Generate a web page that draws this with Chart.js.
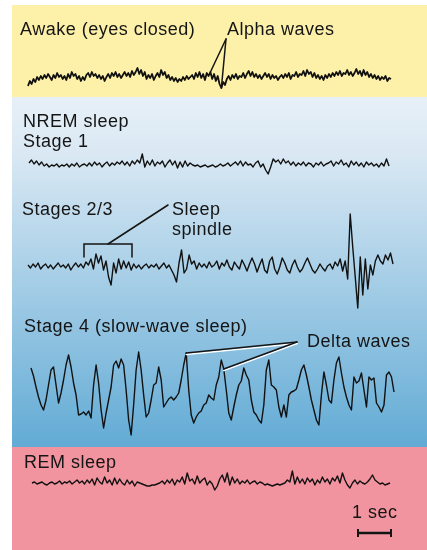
<!DOCTYPE html>
<html>
<head>
<meta charset="utf-8">
<script src="https://cdn.jsdelivr.net/npm/chart.js@4.4.1/dist/chart.umd.min.js"></script>
<style>
  html, body { margin: 0; padding: 0; background: #fff; }
  #wrap { position: relative; width: 427px; height: 550px; overflow: hidden; }
  #eeg { position: absolute; left: 0; top: 0; }
  .lbl {
    position: absolute;
    font-family: "Liberation Sans", Arial, sans-serif;
    font-size: 18px;
    line-height: 20px;
    letter-spacing: 0.5px;
    color: #151515;
    white-space: nowrap;
  }
</style>
</head>
<body>
<div id="wrap">
  <canvas id="eeg" width="427" height="550"></canvas>
  <div class="lbl" style="left:20px;top:19px">Awake (eyes closed)</div>
  <div class="lbl" style="left:227px;top:19px">Alpha waves</div>
  <div class="lbl" style="left:23px;top:111px">NREM sleep<br>Stage 1</div>
  <div class="lbl" style="left:22px;top:199px">Stages 2/3</div>
  <div class="lbl" style="left:172px;top:199px">Sleep<br>spindle</div>
  <div class="lbl" style="left:24px;top:316px">Stage 4 (slow-wave sleep)</div>
  <div class="lbl" style="left:307px;top:331px">Delta waves</div>
  <div class="lbl" style="left:24px;top:452px">REM sleep</div>
  <div class="lbl" style="left:352px;top:502px">1 sec</div>
</div>
<script>
(function() {
  'use strict';

  var PX_PER_SEC = 35;

  // EEG samples, amplitude in display units, positive = up
  var awake = [
    -8, -3, -6, -1, -4, 1, -2, 2, -1, 3,
    0, 4, 1, -2, 3, 0, 5, 1, 3, -1,
    2, -2, 4, 0, 6, 2, 4, -1, 2, -3,
    1, -2, 3, 5, 1, 6, 2, 4, 0, 3,
    -1, 2, -3, 1, 4, 0, 5, 2, 6, 1,
    4, 0, 3, 6, 2, 5, 1, 7, 3, 6,
    10, 4, 8, 2, 6, -1, 3, 0, 4, -2,
    2, 5, 1, 8, 3, 6, 0, 3, -2, 1,
    -3, 0, -4, -1, -3, 1, -2, 2, -1, 1,
    3, -1, 5, 1, 6, 0, 4, -2, 5, 2,
    6, -1, 4, -3, 2, -6, -10, -4, -7, -1,
    2, -2, 3, 0, 4, -1, 2, 1, 5, 0,
    4, 7, 2, 6, 1, 4, 0, 3, -1, 2,
    5, 1, 4, -1, 3, 0, 2, -2, 1, 3,
    0, 4, 1, 5, -1, 3, 2, 6, 1, 4,
    3, 7, 2, 8, 4, 6, 1, 5, 0, 3,
    -1, 2, -2, 3, 0, 4, 1, 5, 2, 6,
    3, 7, 2, 5, 4, 8, 3, 6, 2, 5,
    9, 4, 7, 2, 8, 3, 6, 1, 4, 0,
    3, -1, 2, -2, 1, -1, 2, -3, 0, -1
  ];

  var stage1 = [
    2, 5, 1, 4, 0, 3, -1, 1, -2, 0, -1, 1,
    -2, 0, -1, 1, -2, 1, -1, 2, -2, 0, 1, -1,
    2, -1, 3, 0, 2, -2, 1, 3, -1, 2, 0, 3,
    1, 4, 0, 3, -1, 4, 1, 5, 2, 11, -2, 4,
    0, 5, -1, 3, 1, 4, -2, 2, 5, 0, 4, -3,
    3, -2, 4, -1, 2, 0, -1, 0, -2, -1, 0, -2,
    -1, 0, -2, -1, 1, -1, 0, 2, -1, 1, 3, 0,
    4, -1, 3, 0, 1, -2, 2, 4, -2, 1, -5, -9,
    -2, 6, 3, 5, 1, 6, 2, 4, 0, 3, -1, 2,
    0, 3, -1, 2, 1, -2, 2, 0, 3, -1, 1, 2,
    4, -1, 3, 1, 5, 0, 2, -2, 4, 0, 3, -1,
    2, -2, 3, 0, 2, -1, 1, -2, 2, -1, 6, -1
  ];

  var stage23 = [
    2, -1, 3, 0, 4, -2, 1, 3, -1, 2,
    -2, 1, 4, 0, 2, -1, 3, -3, 1, 4,
    0, 3, -1, 5, 2, 8, -2, 13, 4, 11,
    -3, 6, -10, -18, 4, -6, 8, -2, 6, -1,
    5, -3, 3, -1, 2, -2, 1, 3, -1, 2,
    0, 3, -2, 1, 4, -1, 2, -3, -8, -15,
    4, 17, -6, -2, 12, 3, 6, -2, 4, 0,
    3, -1, 5, 0, 2, 6, -2, 4, 1, 7,
    0, -3, 5, 1, -2, 7, 2, -4, 3, 9,
    3, -5, 2, 8, -3, -6, 6, 10, -2, -7,
    0, 9, 4, -3, -6, 2, 7, 0, -5, -2,
    4, 9, 3, -3, -6, -2, 3, -1, -4, 1,
    3, -2, 5, 1, 8, -4, 6, -12, 53, 20,
    -10, -41, 10, -28, 8, -22, 2, -8, 6, 12,
    6, 3, 12, 7, 14, 3
  ];

  var stage4 = [
    27, 19, 8, -2, -10, -15, -5, 10, 25, 28,
    10, -8, 2, 15, 30, 40, 28, 12, 0, -20,
    -19, -17, -20, -16, -23, 10, 30, 12, -15, -33,
    -18, -5, 8, 30, 34, 27, 36, 30, 5, -25,
    -40, -10, 25, 43, 25, 0, -22, -18, -5, 10,
    12, 28, 15, -12, -8, -4, -2, -5, -2, 2,
    15, 30, 42, 5, -20, -28, -22, -18, -16, -10,
    -8, 0, -3, -5, 10, 18, 35, 26, 5, -18,
    -25, -12, 0, 10, 14, 27, 20, 15, -5, -17,
    -20, -25, -28, -10, 25, 35, 10, 8, 5, -12,
    -22, -10, -22, 0, 3, 4, 6, 15, 25, 30,
    20, 8, -5, -15, -25, -30, 0, 23, 10, -5,
    -8, 15, 32, 38, 22, 8, -2, -10, -15, 18,
    12, 14, 22, 5, -12, 18, 15, 17, -8, -12,
    -17, -10, 20, 23, 18, 3
  ];

  var rem = [
    0, 1, -1, 0, 1, -1, -2, 0, 1, -1, 0, 2, -1, 1, 0, 2, -1, 1, 3, 0, 2,
    -1, 3, 0, 4, -2, 5, 1, -1, 6, 0, 3, -2, 5, -1, 4, 0, -2, 3, -1, 2, -3, 1, 0,
    -1, -2, -3, -3, -2, -2, -1, 0,
    2, -1, 3, 0, 4, -2, 3, 1, 6, -1, 10, 2, 4, -1, 7, 0, 3, 5, -2, 2, -1,
    -7, -3, 4, 8, 1, 10, -2, 6, 0, 4, -1,
    2, 0, 3, -1, 1, 2, -1, 1, 0, -2, -1,
    -2, -3, -2, -1, -2, -1, 0,
    3, 1, 12, -1, 6, 0, 4,
    -1, 5, 1, 4, -2, 3, 0, 6, 1, 4, -1, 5, 2, 7, 0, 10, 3, -2,
    -5, 0, 3, -1, 2, 0, -1, 1, 4, 8, 3, 1, -1, 0, -2, -1, 0
  ];

  var COLORS = {
    awake: '#fdf1a9',
    nremTop: '#e7f0f7',
    nremBottom: '#62abd5',
    rem: '#f2949f',
    trace: '#111111',
    ink: '#151515'
  };

  var W = 427, H = 550;

  // where each channel sits on the page (pixel span, baseline, pen width)
  var TRACES = [
    { data: awake, from: 28, to: 391, base: 78, pen: 1.8 },
    { data: stage1, from: 29, to: 389, base: 165, pen: 1.4 },
    { data: stage23, from: 28, to: 393, base: 267, pen: 1.4 },
    { data: stage4, from: 31, to: 394, base: 395, pen: 1.4 },
    { data: rem, from: 32, to: 390, base: 483, pen: 1.4 }
  ];

  function toPoints(tr) {
    var t0 = tr.from / PX_PER_SEC;
    var dt = (tr.to - tr.from) / PX_PER_SEC / (tr.data.length - 1);
    return tr.data.map(function(v, i) { return { x: t0 + i * dt, y: v }; });
  }

  var bandsPlugin = {
    id: 'bands',
    beforeDraw: function(chart) {
      var ctx = chart.ctx;
      ctx.save();
      ctx.fillStyle = '#ffffff';
      ctx.fillRect(0, 0, W, H);
      ctx.fillStyle = COLORS.awake;
      ctx.fillRect(12, 5, W - 12, 92);
      var g = ctx.createLinearGradient(0, 97, 0, 447);
      g.addColorStop(0, COLORS.nremTop);
      g.addColorStop(0.15, '#dbe9f4');
      g.addColorStop(1, COLORS.nremBottom);
      ctx.fillStyle = g;
      ctx.fillRect(12, 97, W - 12, 350);
      ctx.fillStyle = COLORS.rem;
      ctx.fillRect(12, 447, W - 12, H - 447);
      ctx.restore();
    }
  };

  function seg(ctx, x1, y1, x2, y2) {
    ctx.beginPath();
    ctx.moveTo(x1, y1);
    ctx.lineTo(x2, y2);
    ctx.stroke();
  }

  var notesPlugin = {
    id: 'notes',
    afterDatasetsDraw: function(chart) {
      var ctx = chart.ctx;
      var xs = chart.scales.x;
      function pt(ds, i) { return chart.getDatasetMeta(ds).data[i]; }

      ctx.save();
      ctx.lineCap = 'round';
      ctx.strokeStyle = COLORS.ink;
      ctx.lineWidth = 1.5;

      // alpha waves pointers
      var a1 = pt(0, 100), a2 = pt(0, 106);
      seg(ctx, 226, 39, a1.x, a1.y);
      seg(ctx, 226, 39, a2.x, a2.y);

      // sleep spindle bracket
      var bx1 = xs.getPixelForValue(84 / PX_PER_SEC);
      var bx2 = xs.getPixelForValue(132 / PX_PER_SEC);
      ctx.beginPath();
      ctx.moveTo(bx1, 257);
      ctx.lineTo(bx1, 244);
      ctx.lineTo(bx2, 244);
      ctx.lineTo(bx2, 257);
      ctx.stroke();
      seg(ctx, (bx1 + bx2) / 2, 244, 168, 205);

      // delta waves pointers, with a light edge under them
      var d1 = pt(3, 62), d2 = pt(3, 77);
      ctx.strokeStyle = '#ffffff';
      ctx.lineWidth = 1.5;
      seg(ctx, 297, 343.5, d1.x, d1.y + 1.5);
      seg(ctx, 297, 343.5, d2.x, d2.y + 1.5);
      ctx.strokeStyle = COLORS.ink;
      seg(ctx, 297, 342, d1.x, d1.y);
      seg(ctx, 297, 342, d2.x, d2.y);

      // 1 second scale bar
      var s1 = xs.getPixelForValue(357 / PX_PER_SEC);
      var s2 = xs.getPixelForValue(357 / PX_PER_SEC + 1);
      ctx.lineWidth = 2.5;
      ctx.lineCap = 'butt';
      seg(ctx, s1, 533, s2, 533);
      ctx.lineWidth = 2;
      seg(ctx, s1 + 1, 529, s1 + 1, 537);
      seg(ctx, s2 - 1, 529, s2 - 1, 537);
      ctx.restore();
    }
  };

  var scales = {
    x: { type: 'linear', min: 0, max: W / PX_PER_SEC, display: false }
  };
  var datasets = TRACES.map(function(tr, k) {
    scales['y' + k] = { type: 'linear', min: -(H - tr.base), max: tr.base, display: false };
    return {
      data: toPoints(tr),
      yAxisID: 'y' + k,
      borderColor: COLORS.trace,
      borderWidth: tr.pen,
      borderJoinStyle: 'round',
      pointRadius: 0,
      tension: 0,
      fill: false
    };
  });

  new Chart(document.getElementById('eeg'), {
    type: 'line',
    data: { datasets: datasets },
    options: {
      responsive: false,
      animation: false,
      events: [],
      layout: { padding: 0 },
      plugins: { legend: { display: false }, tooltip: { enabled: false } },
      scales: scales
    },
    plugins: [bandsPlugin, notesPlugin]
  });
})();
</script>
</body>
</html>
